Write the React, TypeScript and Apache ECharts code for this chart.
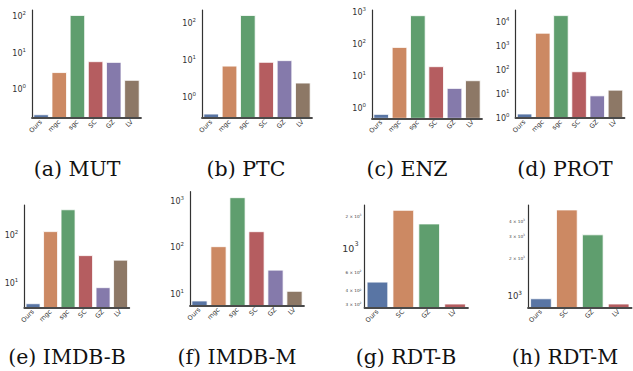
import React, { useEffect, useRef } from 'react';
import * as echarts from 'echarts';

// ---------- data ----------
const categoriesFull = ['Ours', 'mgc', 'sgc', 'SC', 'GZ', 'LV'];
const categoriesReddit = ['Ours', 'SC', 'GZ', 'LV'];

const mutValues = [0.21, 3.0, 110, 5.96, 5.7, 1.84];
const ptcValues = [0.35, 7.1, 170, 9.0, 10, 2.45];
const enzValues = [0.65, 80, 780, 20, 4.2, 7.3];
const protValues = [1.47, 3600, 19700, 87, 8.5, 14.7];
const imdbBValues = [3.73, 121, 347, 38, 8.1, 30.5];
const imdbMValues = [7.2, 105, 1180, 220, 33, 11.6];
const rdtBValues = [484, 2265, 1690, 302];
const rdtMValues = [951, 4910, 3100, 863];

const mutTicks = [1, 10, 100];
const ptcTicks = [1, 10, 100];
const enzTicks = [1, 10, 100, 1000];
const protTicks = [1, 10, 100, 1000, 10000];
const imdbBTicks = [10, 100];
const imdbMTicks = [10, 100, 1000];
const rdtBTicks = [300, 400, 600, 1000, 2000];
const rdtMTicks = [1000, 2000, 3000, 4000];

const mutLimits = [0.171, 155];
const ptcLimits = [0.273, 240];
const enzLimits = [0.49, 1175];
const protLimits = [1, 33900];
const imdbBLimits = [3.08, 437];
const imdbMLimits = [5.7, 1585];
const rdtBLimits = [279, 2540];
const rdtMLimits = [806, 5380];

const captions = ['(a) MUT', '(b) PTC', '(c) ENZ', '(d) PROT', '(e) IMDB-B', '(f) IMDB-M', '(g) RDT-B', '(h) RDT-M'];

// ---------- styling / layout ----------
const palette = ['#5975a4', '#cc8963', '#5f9e6e', '#b55d60', '#857aab', '#8d7866'];

const panels = [
  { cats: categoriesFull, values: mutValues, ticks: mutTicks, limits: mutLimits },
  { cats: categoriesFull, values: ptcValues, ticks: ptcTicks, limits: ptcLimits },
  { cats: categoriesFull, values: enzValues, ticks: enzTicks, limits: enzLimits },
  { cats: categoriesFull, values: protValues, ticks: protTicks, limits: protLimits },
  { cats: categoriesFull, values: imdbBValues, ticks: imdbBTicks, limits: imdbBLimits },
  { cats: categoriesFull, values: imdbMValues, ticks: imdbMTicks, limits: imdbMLimits },
  { cats: categoriesReddit, values: rdtBValues, ticks: rdtBTicks, limits: rdtBLimits },
  { cats: categoriesReddit, values: rdtMValues, ticks: rdtMTicks, limits: rdtMLimits },
];

const layout = [
  { left: 32, top: 10, width: 109, height: 108, majFont: 8, capX: 77, capY: 168.5 },
  { left: 202, top: 10, width: 110, height: 108, majFont: 8, capX: 246, capY: 168.5 },
  { left: 372, top: 10, width: 110, height: 108.3, majFont: 8, capX: 407, capY: 168.5 },
  { left: 515.5, top: 10, width: 109, height: 108, majFont: 8, capX: 565, capY: 168.5 },
  { left: 24.3, top: 205, width: 105, height: 102.7, majFont: 8, capX: 67, capY: 357 },
  { left: 190, top: 191.7, width: 114, height: 114, majFont: 8, capX: 237, capY: 357 },
  { left: 364.5, top: 205, width: 103.5, height: 102.7, majFont: 9.5, capX: 406, capY: 357 },
  { left: 528, top: 205, width: 103.6, height: 102.7, majFont: 8.5, capX: 565, capY: 357 },
];

function tickLabel(v: number): string {
  const e = Math.floor(Math.log10(v) + 1e-9);
  const m = Math.round(v / Math.pow(10, e));
  if (m === 1) return '{b|10}{s|' + e + '}{pad|}';
  return '{m|' + m + ' × 10}{ms|' + e + '}';
}

function buildOption() {
  const grid: any[] = [];
  const xAxis: any[] = [];
  const yAxis: any[] = [];
  const series: any[] = [];
  const graphic: any[] = [];

  panels.forEach((p, k) => {
    const L = layout[k];
    const lo = Math.log10(p.limits[0]);
    const hi = Math.log10(p.limits[1]);
    grid.push({ left: L.left, top: L.top, width: L.width, height: L.height, containLabel: false, outerBoundsMode: 'none' });
    xAxis.push({
      type: 'category',
      gridIndex: k,
      data: p.cats,
      z: 5,
      axisLine: { show: true, onZero: false, lineStyle: { color: '#4a4a4a', width: 1.8 } },
      axisTick: { show: false },
      axisLabel: {
        interval: 0,
        rotate: 45,
        margin: 3,
        fontSize: 6.5,
        color: '#333',
        fontFamily: 'DejaVu Sans',
      },
      splitLine: { show: false },
    });
    const tickLogs = p.ticks.map((t) => Math.log10(t));
    const sf = L.majFont;
    yAxis.push({
      type: 'value',
      gridIndex: k,
      min: lo,
      max: hi,
      z: 5,
      axisLine: { show: true, onZero: false, lineStyle: { color: '#333', width: 1.2 } },
      axisTick: { show: false },
      splitLine: { show: false },
      axisLabel: {
        customValues: tickLogs,
        margin: 3,
        color: '#333',
        fontFamily: 'DejaVu Sans',
        formatter: (val: number) => {
          let best = p.ticks[0];
          let bd = Infinity;
          p.ticks.forEach((t) => {
            const d = Math.abs(Math.log10(t) - val);
            if (d < bd) { bd = d; best = t; }
          });
          return tickLabel(best);
        },
        rich: {
          b: { fontSize: sf, lineHeight: sf * 1.5, color: '#333', fontFamily: 'DejaVu Sans' },
          s: { fontSize: sf * 0.68, lineHeight: sf * 0.8, verticalAlign: 'top', color: '#333', fontFamily: 'DejaVu Sans' },
          pad: { width: 3 },
          m: { fontSize: 4.2, lineHeight: 6, color: '#444', fontFamily: 'DejaVu Sans' },
          ms: { fontSize: 3, lineHeight: 3.5, verticalAlign: 'top', color: '#444', fontFamily: 'DejaVu Sans' },
        },
      },
    });
    series.push({
      type: 'custom',
      xAxisIndex: k,
      yAxisIndex: k,
      data: p.values.map((v, i) => [i, Math.log10(v)]),
      encode: { x: 0, y: 1 },
      renderItem: (params: any, api: any) => {
        const idx = api.value(0);
        const top = api.coord([idx, api.value(1)]);
        const bottom = api.coord([idx, lo]);
        const w = api.size([1, 0])[0] * 0.8;
        return {
          type: 'rect',
          shape: { x: top[0] - w / 2, y: top[1], width: w, height: bottom[1] - top[1] },
          style: { fill: palette[params.dataIndex], stroke: '#ffffff', lineWidth: 0.8 },
        };
      },
    });
    graphic.push({
      type: 'text',
      x: L.capX,
      y: L.capY,
      style: {
        text: captions[k],
        fontSize: 20.5,
        fontFamily: '"DejaVu Serif", serif',
        fill: '#111',
        textAlign: 'center',
        textVerticalAlign: 'middle',
        align: 'center',
        verticalAlign: 'middle',
      },
    });
  });

  return {
    animation: false,
    backgroundColor: '#ffffff',
    grid,
    xAxis,
    yAxis,
    series,
    graphic,
  };
}

export default function App() {
  const ref = useRef<HTMLDivElement>(null);
  useEffect(() => {
    if (!ref.current) return;
    const chart = echarts.init(ref.current, undefined, { renderer: 'svg' });
    chart.setOption(buildOption() as any);
    return () => chart.dispose();
  }, []);
  return (
    <div
      ref={ref}
      style={{ position: 'absolute', left: 0, top: 0, width: 633, height: 371, background: '#fff' }}
    />
  );
}
